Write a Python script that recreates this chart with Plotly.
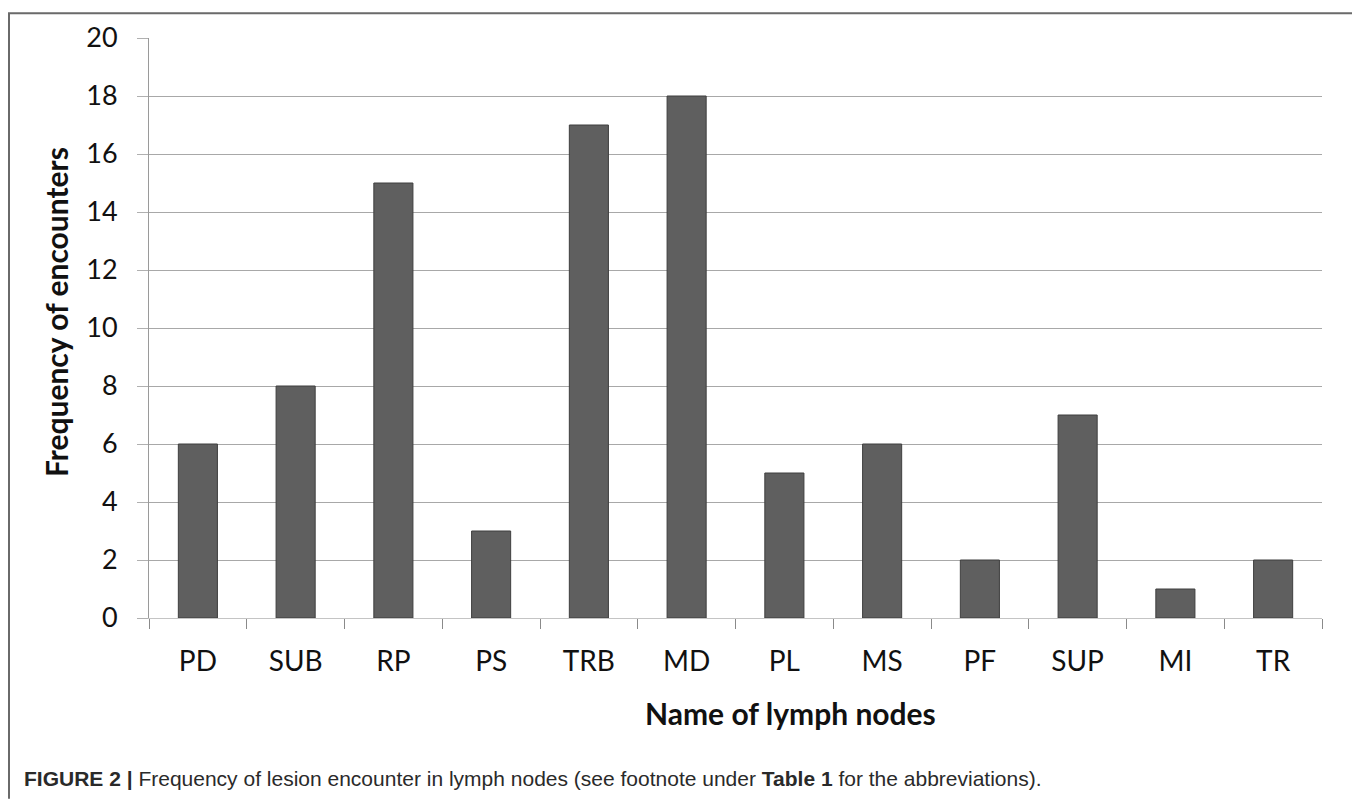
import plotly.graph_objects as go

categories = ["PD", "SUB", "RP", "PS", "TRB", "MD", "PL", "MS", "PF", "SUP", "MI", "TR"]
frequencies = [6, 8, 15, 3, 17, 18, 5, 6, 2, 7, 1, 2]
y_ticks = [0, 2, 4, 6, 8, 10, 12, 14, 16, 18, 20]

# page offset (body margin) is 8 px; sizes chosen so the figure fits the window
OFF = 8
W, H = 1352, 792
ML, MT = 149 - OFF, 34 - OFF
MR = W - (1322 - OFF)
MB = H - (618 - OFF)
PW, PH = W - ML - MR, H - MT - MB


def px(x):
    """screen x -> paper x"""
    return (x - OFF - ML) / PW


def py(y):
    """screen y -> paper y"""
    return (H - MB - (y - OFF)) / PH


fig = go.Figure(
    go.Bar(
        x=categories,
        y=frequencies,
        marker=dict(color="#5f5f5f", line=dict(color="#3f3f3f", width=1)),
        hoverinfo="x+y",
    )
)

fig.update_layout(
    width=W,
    height=H,
    margin=dict(l=ML, r=MR, t=MT, b=MB),
    paper_bgcolor="white",
    plot_bgcolor="white",
    bargap=0.6,
    showlegend=False,
    font=dict(family="Lato, 'Open Sans', sans-serif", color="#111111"),
    xaxis=dict(
        showline=True,
        linecolor="#c4c4c4",
        linewidth=1,
        ticks="outside",
        tickson="boundaries",
        ticklen=10,
        tickcolor="#8a8a8a",
        tickfont=dict(size=28, family="Lato, sans-serif", color="#111111"),
        ticklabelstandoff=18,
        showgrid=False,
    ),
    yaxis=dict(
        range=[0, 20],
        tickvals=y_ticks,
        showline=True,
        linecolor="#9a9a9a",
        linewidth=1,
        ticks="outside",
        ticklen=11,
        tickcolor="#b0b0b0",
        tickfont=dict(size=27, family="Lato, sans-serif", color="#111111"),
        ticklabelstandoff=14,
        showgrid=True,
        gridcolor="#a8a8a8",
        gridwidth=1,
        zeroline=False,
    ),
)

# Axis titles
fig.add_annotation(
    xref="paper", yref="paper", x=px(56), y=py(310),
    xanchor="center", yanchor="middle", showarrow=False, textangle=-90,
    text="<b>Frequency of encounters</b>",
    font=dict(size=30, family="Lato, sans-serif", color="#111111"),
)
fig.add_annotation(
    xref="paper", yref="paper", x=px(790), y=py(714),
    xanchor="center", yanchor="middle", showarrow=False,
    text="<b>Name of lymph nodes</b>",
    font=dict(size=30, family="Lato, sans-serif", color="#111111"),
)

# Outer frame (left, top, right edges)
fig.add_shape(
    type="path", xref="paper", yref="paper",
    path=f"M {px(9)} {py(800)} L {px(9)} {py(9)} L {px(1356)} {py(9)} L {px(1356)} {py(800)}",
    line=dict(color="#6a6a6a", width=2),
)

# Caption
fig.add_annotation(
    xref="paper", yref="paper", x=px(22), y=py(780),
    xanchor="left", yanchor="middle", showarrow=False, align="left",
    text="<b>FIGURE 2 |</b> Frequency of lesion encounter in lymph nodes (see footnote under <b>Table 1</b> for the abbreviations).",
    font=dict(size=21, family="'Liberation Sans', Arial, sans-serif", color="#2a2a2a"),
)

fig.write_html("out.html")
